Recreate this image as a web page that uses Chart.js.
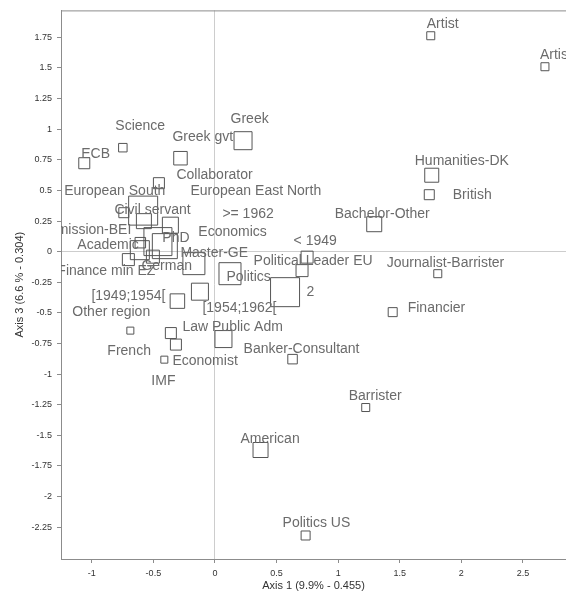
<!DOCTYPE html>
<html>
<head>
    <meta charset="UTF-8">
    <title>Correspondence analysis - axes 1 and 3</title>
    <script src="https://cdn.jsdelivr.net/npm/chart.js"></script>
    <style>
        html, body { margin: 0; padding: 0; background: #fff; overflow: hidden; }
        canvas { display: block; }
    </style>
</head>
<body>

<canvas id="ca-chart" width="566" height="595"></canvas>

<script>
    // Modalities and their coordinates on axis 1 and axis 3
    const categories = [
        'Artist', 'Artist', 'Greek', 'Greek gvt', 'ECB', 'Science', 'Collaborator',
        'European South', 'Commission-BEI', 'Civil servant', '>= 1962', 'European East North',
        'Economics', 'Academic', 'PhD', 'Finance min EZ', 'German', 'Master-GE', 'Politics',
        '2', 'Political Leader EU', '< 1949', '[1954;1962[', '[1949;1954[', 'Law Public Adm',
        'Other region', 'French', 'Economist', 'IMF', 'Banker-Consultant', 'Bachelor-Other',
        'Humanities-DK', 'British', 'Journalist-Barrister', 'Financier', 'Barrister',
        'American', 'Politics US'
    ];
    const axis1 = [
        1.752, 2.679, 0.228, -0.280, -1.061, -0.748, -0.455,
        -0.583, -0.740, -0.577, -0.362, -0.463,
        -0.407, -0.606, -0.610, -0.703, -0.504, -0.171, 0.122,
        0.569, 0.707, 0.748, -0.122, -0.305, 0.069,
        -0.687, -0.358, -0.317, -0.411, 0.630, 1.293,
        1.760, 1.740, 1.809, 1.443, 1.224,
        0.370, 0.736
    ];
    const axis3 = [
        1.763, 1.510, 0.906, 0.763, 0.722, 0.849, 0.559,
        0.335, 0.318, 0.249, 0.216, 0.082,
        0.045, 0.073, 0.012, -0.065, -0.041, -0.098, -0.180,
        -0.331, -0.155, -0.045, -0.327, -0.404, -0.714,
        -0.645, -0.665, -0.759, -0.882, -0.878, 0.224,
        0.624, 0.465, -0.180, -0.494, -1.273,
        -1.620, -2.318
    ];
    const xTicks = [-1, -0.5, 0, 0.5, 1, 1.5, 2, 2.5];
    const yTicks = [-2.25, -2, -1.75, -1.5, -1.25, -1, -0.75, -0.5, -0.25, 0,
                    0.25, 0.5, 0.75, 1, 1.25, 1.5, 1.75];

    // Marker side in px (square size of each modality)
    const markerSide = [
        8, 8, 18, 13.5, 11, 8.5, 11,
        29, 10, 15, 16, 28,
        25, 10.5, 19, 12, 13, 22, 22,
        29, 12, 12, 17, 14.5, 17,
        7, 11, 11, 7, 9.5, 15,
        14, 10, 8, 9, 8,
        15, 9
    ];
    // Label placement relative to the marker centre: [dx, dy, align]
    const labelOffset = [
        [-4, -12], [-5, -12], [-12.5, -22], [-8, -21.5], [-3, -9.5], [-7.5, -22], [17.5, -8.5],
        [-79, -19], [7.5, 17, 'right'], [-29.5, -11.5], [52, -11.5], [32.5, -50],
        [33.5, -13.5], [-63, 2], [22.5, -12.5], [27, 12, 'right'], [-11.5, 9], [-13.5, -10], [-3.5, 3],
        [21.5, -0.5], [-48.5, -9], [-13.5, -16.5], [2.5, 16], [-86, -4.5], [-41, -11.5],
        [-58, -18], [-63.5, 18.5], [-3.5, 17], [-13, 21], [-49, -10.5], [-39.5, -10.5],
        [-17, -14.5], [23.5, 0], [-51, -11], [15, -3.5], [-17, -11],
        [-20, -10.5], [-23, -12]
    ];

    // Draws the modality names next to the squares and the top frame line
    const pointLabels = {
        id: 'pointLabels',
        afterDatasetsDraw(chart) {
            const {ctx, chartArea, scales} = chart;
            ctx.save();
            ctx.strokeStyle = '#8c8c8c';
            ctx.lineWidth = 1;
            ctx.beginPath();
            ctx.moveTo(chartArea.left, chartArea.top + 0.5);
            ctx.lineTo(chartArea.right, chartArea.top + 0.5);
            ctx.stroke();

            ctx.beginPath();
            ctx.rect(chartArea.left, chartArea.top, chartArea.right - chartArea.left, chartArea.bottom - chartArea.top);
            ctx.clip();
            ctx.font = '14px "Liberation Sans", Arial, sans-serif';
            ctx.fillStyle = '#6b6b6b';
            ctx.textBaseline = 'middle';
            categories.forEach((name, i) => {
                const [dx, dy, align] = labelOffset[i];
                ctx.textAlign = align || 'left';
                const px = scales.x.getPixelForValue(axis1[i]);
                const py = scales.y.getPixelForValue(axis3[i]);
                ctx.fillText(name, px + dx, py + dy);
            });
            ctx.restore();
        }
    };

    const zeroLine = c => (c.tick && c.tick.value === 0) ? '#cdcdcd' : 'rgba(0,0,0,0)';
    const tickFont = {family: '"Liberation Sans", Arial, sans-serif', size: 9};
    const titleFont = {family: '"Liberation Sans", Arial, sans-serif', size: 11};

    const ctx = document.getElementById('ca-chart').getContext('2d');
    new Chart(ctx, {
        type: 'scatter',
        data: {
            datasets: [{
                data: categories.map((c, i) => ({x: axis1[i], y: axis3[i]})),
                pointStyle: 'rect',
                pointRadius: markerSide.map(s => s / Math.SQRT2),
                pointHoverRadius: markerSide.map(s => s / Math.SQRT2),
                borderColor: '#555555',
                backgroundColor: 'rgba(0,0,0,0)',
                borderWidth: 1
            }]
        },
        options: {
            responsive: false,
            animation: false,
            layout: {autoPadding: false, padding: {top: 10, right: 0, bottom: 0, left: 0}},
            plugins: {
                legend: {display: false},
                tooltip: {enabled: false}
            },
            scales: {
                x: {
                    type: 'linear',
                    min: -1.25,
                    max: 2.85,
                    afterBuildTicks: s => { s.ticks = xTicks.map(v => ({value: v})); },
                    afterFit: s => { s.height = 36; },
                    grid: {color: zeroLine, tickColor: '#8c8c8c', tickLength: 4},
                    border: {color: '#8c8c8c'},
                    ticks: {font: tickFont, color: '#333', padding: 5, maxRotation: 0, callback: v => String(v)},
                    title: {display: true, text: 'Axis 1 (9.9% - 0.455)', font: titleFont, color: '#333',
                            padding: {top: 0, bottom: 2}}
                },
                y: {
                    type: 'linear',
                    min: -2.51,
                    max: 1.97,
                    afterBuildTicks: s => { s.ticks = yTicks.map(v => ({value: v})); },
                    afterFit: s => { s.width = 61; },
                    grid: {color: zeroLine, tickColor: '#8c8c8c', tickLength: 4},
                    border: {color: '#8c8c8c'},
                    ticks: {font: tickFont, color: '#333', padding: 5, callback: v => String(v)},
                    title: {display: true, text: 'Axis 3 (6.6 % - 0.304)', font: titleFont, color: '#333',
                            padding: {top: 13, bottom: 0}}
                }
            }
        },
        plugins: [pointLabels]
    });
</script>

</body>
</html>
